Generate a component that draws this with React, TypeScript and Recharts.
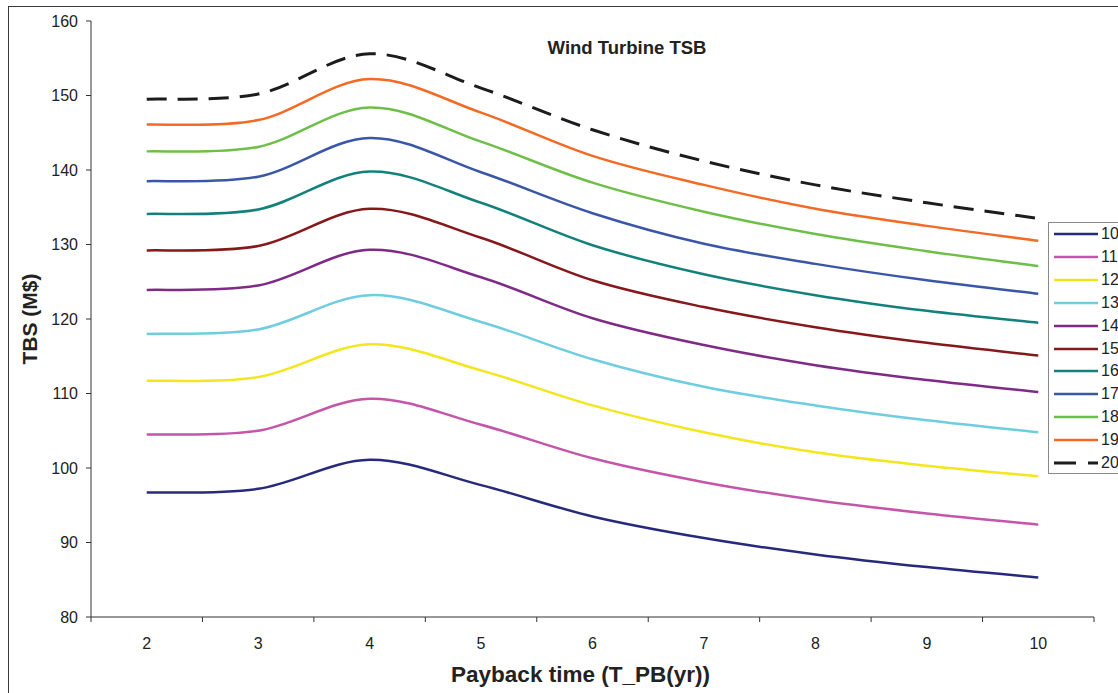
import { LineChart, Line, XAxis, YAxis } from 'recharts'

// payback time categories (yr)
const X_VALUES = [2, 3, 4, 5, 6, 7, 8, 9, 10]
// boundaries between categories, where Excel put its tick marks
const X_BOUNDS = [1.5, 2.5, 3.5, 4.5, 5.5, 6.5, 7.5, 8.5, 9.5, 10.5]
const Y_TICKS = [80, 90, 100, 110, 120, 130, 140, 150, 160]

const S10 = [96.7, 97.2, 101.1, 97.7, 93.5, 90.6, 88.4, 86.7, 85.3]
const S11 = [104.5, 105.0, 109.3, 105.8, 101.3, 98.1, 95.7, 93.9, 92.4]
const S12 = [111.7, 112.2, 116.6, 113.1, 108.4, 104.8, 102.1, 100.3, 98.9]
const S13 = [118.0, 118.6, 123.2, 119.6, 114.6, 110.9, 108.4, 106.4, 104.8]
const S14 = [123.9, 124.5, 129.3, 125.6, 120.1, 116.5, 113.8, 111.8, 110.2]
const S15 = [129.2, 129.8, 134.8, 130.9, 125.2, 121.6, 118.9, 116.8, 115.1]
const S16 = [134.1, 134.7, 139.8, 135.6, 129.9, 126.0, 123.2, 121.1, 119.5]
const S17 = [138.5, 139.1, 144.3, 139.7, 134.2, 130.1, 127.4, 125.2, 123.4]
const S18 = [142.5, 143.1, 148.4, 143.8, 138.3, 134.4, 131.4, 129.1, 127.1]
const S19 = [146.1, 146.7, 152.2, 147.7, 141.9, 138.0, 134.8, 132.5, 130.5]
const S20 = [149.5, 150.2, 155.6, 151.0, 145.4, 141.2, 138.0, 135.6, 133.5]

const SERIES = [
  { key: '10', values: S10, color: '#272a7c' },
  { key: '11', values: S11, color: '#c455a8' },
  { key: '12', values: S12, color: '#f3e61b' },
  { key: '13', values: S13, color: '#6fcde0' },
  { key: '14', values: S14, color: '#7f2a87' },
  { key: '15', values: S15, color: '#85181b' },
  { key: '16', values: S16, color: '#13807b' },
  { key: '17', values: S17, color: '#3a56a8' },
  { key: '18', values: S18, color: '#6dbf48' },
  { key: '19', values: S19, color: '#f36a24' },
  { key: '20', values: S20, color: '#1c1c1c', dash: '20 11' },
]

const FONT = '"Liberation Sans", Arial, Helvetica, sans-serif'
const W = 1118
const H = 693
const M = { top: 21, right: 24, left: 29, bottom: 0 }
const Y_W = 62
const PLOT_W = W - M.left - Y_W - M.right
const HALF_STEP = PLOT_W / (X_BOUNDS[X_BOUNDS.length - 1] - X_BOUNDS[0]) / 2

const data = X_VALUES.map((x, i) => {
  const row: Record<string, number> = { x }
  for (const s of SERIES) row['s' + s.key] = s.values[i]
  return row
})

// Excel-style smoothed line (uniform Catmull-Rom as cubic beziers)
function excelSmooth(context: any) {
  let pts: number[][] = []
  return {
    areaStart() {},
    areaEnd() {},
    lineStart() { pts = [] },
    point(x: number, y: number) { pts.push([+x, +y]) },
    lineEnd() {
      if (!pts.length) return
      context.moveTo(pts[0][0], pts[0][1])
      for (let i = 0; i < pts.length - 1; i++) {
        const p0 = pts[i - 1] || pts[i]
        const p1 = pts[i]
        const p2 = pts[i + 1]
        const p3 = pts[i + 2] || pts[i + 1]
        context.bezierCurveTo(
          p1[0] + (p2[0] - p0[0]) / 6, p1[1] + (p2[1] - p0[1]) / 6,
          p2[0] - (p3[0] - p1[0]) / 6, p2[1] - (p3[1] - p1[1]) / 6,
          p2[0], p2[1],
        )
      }
    },
  }
}

// label sits in the middle of each category band
function XTick(props: any) {
  const { x, y, payload } = props
  const v = payload.value + 0.5
  if (v > X_VALUES[X_VALUES.length - 1]) return null
  return (
    <text x={x + HALF_STEP} y={y} dy={25} textAnchor="middle" fontSize={16} fill="#222" fontFamily={FONT}>
      {v}
    </text>
  )
}

const titleStyle = { fontSize: 21, fontWeight: 700, fill: '#222', fontFamily: FONT }

export default function App() {
  return (
    <div style={{ position: 'absolute', left: 0, top: 0, width: W, height: H, overflow: 'hidden', background: '#fff', fontFamily: FONT }}>
      <div style={{ position: 'absolute', left: 8, top: 6, width: 1200, height: 800, border: '1px solid #3a3a3a' }} />
      <LineChart width={W} height={H} data={data} margin={M} style={{ position: 'absolute', left: 0, top: 0 }}>
        <XAxis
          dataKey="x"
          type="number"
          domain={[1.5, 10.5]}
          ticks={X_BOUNDS}
          interval={0}
          height={76}
          tickSize={5}
          tickMargin={2}
          stroke="#333"
          tick={<XTick />}
          label={{ value: 'Payback time (T_PB(yr))', position: 'insideBottom', offset: 11, dx: -12, style: { ...titleStyle, fontSize: 22.5 } }}
        />
        <YAxis
          domain={[80, 160]}
          ticks={Y_TICKS}
          interval={0}
          width={Y_W}
          tickSize={5}
          tickMargin={8}
          stroke="#333"
          tick={{ fontSize: 16, fill: '#222', fontFamily: FONT }}
          label={{ value: 'TBS (M$)', angle: -90, position: 'insideLeft', offset: 1, style: { ...titleStyle, textAnchor: 'middle' } }}
        />
        {SERIES.map(s => (
          <Line
            key={s.key}
            type={excelSmooth as any}
            dataKey={'s' + s.key}
            stroke={s.color}
            strokeWidth={s.dash ? 3 : 2.5}
            strokeDasharray={s.dash}
            dot={false}
            activeDot={false}
            isAnimationActive={false}
          />
        ))}
      </LineChart>
      <div style={{ position: 'absolute', left: 517, top: 37, width: 220, textAlign: 'center', fontSize: 18.5, fontWeight: 700, color: '#222' }}>
        Wind Turbine TSB
      </div>
      <div style={{ position: 'absolute', left: 1048, top: 222, width: 120, height: 250, border: '1px solid #888', background: '#fff' }}>
        {SERIES.map((s, i) => (
          <div key={s.key} style={{ position: 'absolute', left: 4, top: i * 22.9, height: 22, display: 'flex', alignItems: 'center', fontSize: 16, color: '#222' }}>
            <svg width={46} height={6} style={{ display: 'block' }}>
              <line x1={1} y1={3} x2={45} y2={3} stroke={s.color} strokeWidth={s.dash ? 3 : 2.5} strokeDasharray={s.dash ? '22 12' : undefined} />
            </svg>
            <span style={{ marginLeft: 2 }}>{s.key}</span>
          </div>
        ))}
      </div>
    </div>
  )
}
